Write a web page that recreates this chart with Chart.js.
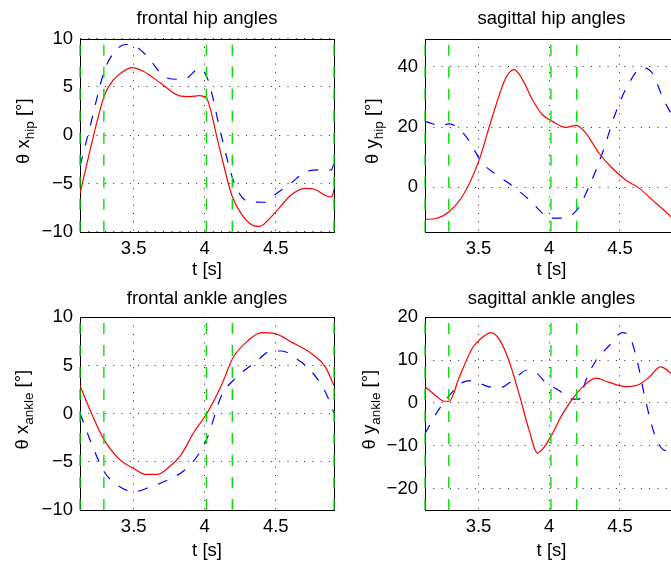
<!DOCTYPE html>
<html>
<head>
<meta charset="utf-8">
<script src="https://cdn.jsdelivr.net/npm/chart.js@4.4.0/dist/chart.umd.min.js"></script>
<style>
  html, body { margin: 0; padding: 0; background: #fff; }
  body { width: 671px; height: 563px; overflow: hidden; position: relative; }
  .panel { position: absolute; }
</style>
</head>
<body>
<script>
// time axis (s)
const tStart = 3.122;
const tEnd = 4.91;
const timeTicks = [3.5, 4, 4.5];
const eventTimes = [3.122, 3.29, 4.012, 4.194, 4.91];

// frontal hip
const hipXRedT = [3.122, 3.292, 3.335, 3.382, 3.488, 3.571, 3.689, 3.830, 3.901, 3.960, 4.000, 4.012, 4.100, 4.190, 4.255, 4.349, 4.384, 4.491, 4.608, 4.703, 4.774, 4.856, 4.895, 4.91];
const hipXRedV = [-6.0, 4.05, 5.3, 6.1, 7.0, 6.6, 5.4, 4.05, 4.0, 4.1, 4.0, 3.9, -1.1, -6.2, -8.1, -9.4, -9.45, -8.1, -6.2, -5.5, -5.6, -6.3, -6.4, -5.6];
const hipXBlueT = [3.122, 3.193, 3.292, 3.358, 3.441, 3.5, 3.594, 3.712, 3.807, 3.877, 3.960, 3.995, 4.031, 4.113, 4.208, 4.302, 4.420, 4.491, 4.608, 4.726, 4.821, 4.892, 4.91];
const hipXBlueV = [-3.2, 0.9, 6.6, 8.5, 9.4, 9.3, 8.2, 6.1, 5.8, 5.95, 6.9, 6.6, 5.4, 0.2, -4.95, -6.85, -6.95, -6.2, -4.95, -3.7, -3.6, -3.6, -2.9];

// sagittal hip
const hipYRedT = [3.122, 3.199, 3.293, 3.399, 3.505, 3.599, 3.693, 3.752, 3.811, 3.881, 3.952, 4.022, 4.116, 4.192, 4.258, 4.352, 4.446, 4.540, 4.634, 4.728, 4.846, 4.91];
const hipYRedV = [-10.7, -10.4, -8.1, -2.0, 9.1, 23.6, 36.3, 39.1, 35.8, 29.1, 24.1, 21.9, 19.9, 20.6, 18.0, 11.3, 6.3, 2.4, -0.3, -4.2, -9.2, -12.5];
const hipYBlueT = [3.122, 3.175, 3.234, 3.293, 3.411, 3.528, 3.646, 3.752, 3.858, 3.952, 3.987, 4.069, 4.192, 4.281, 4.375, 4.469, 4.564, 4.658, 4.728, 4.799, 4.846, 4.91];
const hipYBlueV = [21.9, 21.1, 20.4, 21.1, 16.9, 8.0, 3.6, 0, -4.2, -8.7, -10.3, -10.3, -7.8, 0.2, 11.3, 24.7, 34.7, 39.7, 38.0, 30.2, 25.8, 21.0];

// frontal ankle
const ankleXRedT = [3.122, 3.192, 3.291, 3.405, 3.5, 3.583, 3.666, 3.737, 3.832, 3.927, 4.017, 4.116, 4.199, 4.306, 4.400, 4.495, 4.614, 4.756, 4.851, 4.91];
const ankleXRedV = [2.9, 0.4, -2.7, -4.8, -5.7, -6.3, -6.3, -5.7, -4.3, -1.85, 0.07, 2.9, 5.8, 7.6, 8.4, 8.3, 7.4, 6.2, 4.8, 2.9];
const ankleXBlueT = [3.122, 3.192, 3.291, 3.382, 3.5, 3.618, 3.737, 3.855, 3.962, 4.021, 4.116, 4.211, 4.353, 4.472, 4.543, 4.637, 4.756, 4.851, 4.91];
const ankleXBlueV = [0.07, -2.7, -6.0, -7.4, -8.1, -7.6, -6.9, -5.9, -4.1, -2.4, 1.8, 3.6, 5.3, 6.5, 6.5, 5.8, 4.3, 2.2, 0.07];

// sagittal ankle
const ankleYRedT = [3.122, 3.199, 3.258, 3.293, 3.364, 3.458, 3.528, 3.587, 3.646, 3.716, 3.787, 3.858, 3.916, 3.964, 4.022, 4.093, 4.192, 4.258, 4.328, 4.422, 4.540, 4.634, 4.705, 4.787, 4.853, 4.91];
const ankleYRedV = [3.8, 1.7, 0.4, 0.4, 6.0, 12.9, 15.3, 16.4, 14.9, 9.8, 2.1, -6.4, -11.7, -10.3, -7.2, -2.6, 2.1, 4.4, 5.8, 4.8, 3.8, 4.3, 6.0, 8.4, 7.1, 5.0];
const ankleYBlueT = [3.122, 3.199, 3.293, 3.387, 3.458, 3.552, 3.646, 3.740, 3.846, 3.905, 3.975, 4.069, 4.164, 4.211, 4.258, 4.328, 4.422, 4.516, 4.564, 4.622, 4.681, 4.752, 4.822, 4.853, 4.91];
const ankleYBlueV = [-7.2, -2.6, 1.7, 4.8, 5.2, 4.0, 3.5, 5.2, 7.7, 7.1, 4.8, 2.9, 0.9, 0.9, 5.2, 9.8, 13.3, 16.4, 15.7, 9.8, 0.5, -8.0, -11.1, -10.7, -8.0];

// y ranges and ticks
const hipXRange = [-10, 10];
const hipXTicks = [-10, -5, 0, 5, 10];
const hipYRange = [-14.8, 49.4];
const hipYTicks = [0, 20, 40];
const ankleXRange = [-10, 10];
const ankleXTicks = [-10, -5, 0, 5, 10];
const ankleYRange = [-25, 20];
const ankleYTicks = [-20, -10, 0, 10, 20];

const FONT = '"Liberation Sans", Arial, Helvetica, sans-serif';
const FONT_SIZE = 18.5;
const LINE_H = FONT_SIZE * 1.2;
const GREEN = 'rgb(0,225,0)';

const toPoints = (t, v) => t.map((x, i) => ({ x: x, y: v[i] }));
const fmt = v => String(v).replace('-', '\u2212');

// black box around the axes
const framePlugin = {
  id: 'frame',
  beforeDatasetsDraw(chart) {
    const { ctx, chartArea: a } = chart;
    ctx.save();
    ctx.strokeStyle = '#000';
    ctx.lineWidth = 1;
    ctx.setLineDash([]);
    ctx.strokeRect(Math.round(a.left) + 0.5, Math.round(a.top) + 0.5,
      Math.round(a.right) - Math.round(a.left), Math.round(a.bottom) - Math.round(a.top));
    ctx.restore();
  }
};

// rotated y label with a subscript
const yLabelPlugin = {
  id: 'yLabel',
  afterDraw(chart, args, opts) {
    const { ctx, chartArea: a } = chart;
    const big = FONT_SIZE + 'px ' + FONT;
    const small = '13.5px ' + FONT;
    ctx.save();
    ctx.font = big;
    const w1 = ctx.measureText(opts.main).width;
    const w3 = ctx.measureText(opts.tail).width;
    ctx.font = small;
    const w2 = ctx.measureText(opts.sub).width;
    const total = w1 + w2 + w3;
    ctx.translate(a.left - opts.gap, (a.top + a.bottom) / 2 - 4);
    ctx.rotate(-Math.PI / 2);
    ctx.fillStyle = '#000';
    ctx.textAlign = 'left';
    ctx.textBaseline = 'alphabetic';
    let x = -total / 2;
    ctx.font = big;
    ctx.fillText(opts.main, x, 0);
    x += w1;
    ctx.font = small;
    ctx.fillText(opts.sub, x, 5);
    x += w2;
    ctx.font = big;
    ctx.fillText(opts.tail, x, 0);
    ctx.restore();
  }
};

function makePanel(p) {
  const div = document.createElement('div');
  div.className = 'panel';
  div.style.left = p.left + 'px';
  div.style.top = p.top + 'px';
  div.style.width = p.width + 'px';
  div.style.height = p.height + 'px';
  const canvas = document.createElement('canvas');
  canvas.width = p.width;
  canvas.height = p.height;
  div.appendChild(canvas);
  document.body.appendChild(div);

  const [yMin, yMax] = p.range;
  const events = eventTimes.map(t => ({
    data: [{ x: t, y: yMin }, { x: t, y: yMax }],
    borderColor: GREEN,
    borderWidth: 1.4,
    borderDash: [11, 11],
    pointRadius: 0,
    clip: false
  }));

  const tickFont = { family: FONT, size: FONT_SIZE };
  const gridOpts = { color: 'rgba(0,0,0,0.85)', lineWidth: 1, drawTicks: false };

  new Chart(canvas, {
    type: 'line',
    data: {
      datasets: events.concat([
        {
          data: toPoints(p.redT, p.redV),
          borderColor: '#ff0000',
          borderWidth: 1.2,
          pointRadius: 0,
          cubicInterpolationMode: 'monotone'
        },
        {
          data: toPoints(p.blueT, p.blueV),
          borderColor: '#0000ff',
          borderWidth: 1.2,
          borderDash: [10, 11],
          pointRadius: 0,
          cubicInterpolationMode: 'monotone'
        }
      ])
    },
    options: {
      responsive: false,
      animation: false,
      events: [],
      layout: { padding: { top: 0, left: 0, bottom: 0, right: p.width - p.chartRight } },
      plugins: {
        legend: { display: false },
        tooltip: { enabled: false },
        title: {
          display: true,
          text: p.title,
          fullSize: false,
          color: '#000',
          font: { family: FONT, size: FONT_SIZE, weight: 'normal' },
          padding: { top: 8, bottom: p.chartTop - 8 - LINE_H }
        },
        yLabel: { main: '\u03b8 ' + p.axis, sub: p.sub, tail: ' [\u00b0]', gap: p.gap }
      },
      scales: {
        x: {
          type: 'linear',
          min: tStart,
          max: tEnd,
          afterBuildTicks: s => { s.ticks = timeTicks.map(v => ({ value: v })); },
          afterFit: s => { s.height = p.height - p.chartBottom; },
          grid: gridOpts,
          border: { display: false, dash: [1, 7.3] },
          ticks: { color: '#000', font: tickFont, padding: 6.2, maxRotation: 0, callback: v => fmt(v) },
          title: { display: true, text: 't [s]', color: '#000', font: tickFont, padding: 0 }
        },
        y: {
          type: 'linear',
          min: yMin,
          max: yMax,
          afterBuildTicks: s => { s.ticks = p.ticks.map(v => ({ value: v })); },
          afterFit: s => { s.width = p.chartLeft; },
          grid: gridOpts,
          border: { display: false, dash: [1, 7.3] },
          ticks: { color: '#000', font: tickFont, padding: 7, callback: v => fmt(v) }
        }
      }
    },
    plugins: [framePlugin, yLabelPlugin]
  });
}

makePanel({
  left: 0, top: 0, width: 340, height: 281,
  chartLeft: 80, chartRight: 334, chartTop: 38.7, chartBottom: 231.7, gap: 51,
  title: 'frontal hip angles', axis: 'x', sub: 'hip',
  range: hipXRange, ticks: hipXTicks,
  redT: hipXRedT, redV: hipXRedV, blueT: hipXBlueT, blueV: hipXBlueV
});
makePanel({
  left: 340, top: 0, width: 340, height: 281,
  chartLeft: 85, chartRight: 338, chartTop: 38.7, chartBottom: 231.7, gap: 47,
  title: 'sagittal hip angles', axis: 'y', sub: 'hip',
  range: hipYRange, ticks: hipYTicks,
  redT: hipYRedT, redV: hipYRedV, blueT: hipYBlueT, blueV: hipYBlueV
});
makePanel({
  left: 0, top: 280, width: 340, height: 282,
  chartLeft: 80, chartRight: 334, chartTop: 37.3, chartBottom: 230, gap: 52,
  title: 'frontal ankle angles', axis: 'x', sub: 'ankle',
  range: ankleXRange, ticks: ankleXTicks,
  redT: ankleXRedT, redV: ankleXRedV, blueT: ankleXBlueT, blueV: ankleXBlueV
});
makePanel({
  left: 340, top: 280, width: 340, height: 282,
  chartLeft: 85, chartRight: 338, chartTop: 37.3, chartBottom: 230, gap: 50,
  title: 'sagittal ankle angles', axis: 'y', sub: 'ankle',
  range: ankleYRange, ticks: ankleYTicks,
  redT: ankleYRedT, redV: ankleYRedV, blueT: ankleYBlueT, blueV: ankleYBlueV
});
</script>
</body>
</html>
